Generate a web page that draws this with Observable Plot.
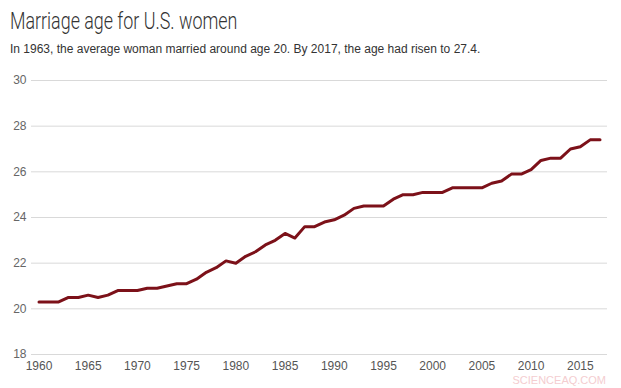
<!DOCTYPE html>
<html>
<head>
<meta charset="utf-8">
<script src="https://cdn.jsdelivr.net/npm/d3@7"></script>
<script src="https://cdn.jsdelivr.net/npm/@observablehq/plot@0.6"></script>
<style>
  html, body { margin: 0; padding: 0; background: #fff; }
  #wrap { position: relative; width: 621px; height: 388px; overflow: hidden; font-family: "Liberation Sans", Arial, sans-serif; }
  #title { position: absolute; left: 10px; top: 7px; font-family: Roboto, "Liberation Sans", sans-serif; font-weight: 300; font-size: 24px; color: #333; white-space: nowrap; transform: scaleX(0.745); transform-origin: left top; }
  #subtitle { position: absolute; left: 10px; top: 42px; font-size: 12px; color: #333; white-space: nowrap; }
  #chart { position: absolute; left: 0; top: 62px; }
  #credit { position: absolute; right: 15px; bottom: 2px; font-size: 11px; color: #f4cdd0; }
</style>
</head>
<body>
<div id="wrap">
  <div id="title">Marriage age for U.S. women</div>
  <div id="subtitle">In 1963, the average woman married around age 20. By 2017, the age had risen to 27.4.</div>
  <div id="chart"></div>
  <div id="credit">SCIENCEAQ.COM</div>
</div>
<script>
const years = [1960,1961,1962,1963,1964,1965,1966,1967,1968,1969,
  1970,1971,1972,1973,1974,1975,1976,1977,1978,1979,
  1980,1981,1982,1983,1984,1985,1986,1987,1988,1989,
  1990,1991,1992,1993,1994,1995,1996,1997,1998,1999,
  2000,2001,2002,2003,2004,2005,2006,2007,2008,2009,
  2010,2011,2012,2013,2014,2015,2016,2017];
const ages = [20.3,20.3,20.3,20.5,20.5,20.6,20.5,20.6,20.8,20.8,
  20.8,20.9,20.9,21.0,21.1,21.1,21.3,21.6,21.8,22.1,
  22.0,22.3,22.5,22.8,23.0,23.3,23.1,23.6,23.6,23.8,
  23.9,24.1,24.4,24.5,24.5,24.5,24.8,25.0,25.0,25.1,
  25.1,25.1,25.3,25.3,25.3,25.3,25.5,25.6,25.9,25.9,
  26.1,26.5,26.6,26.6,27.0,27.1,27.4,27.4];
const xTicks = [1960,1965,1970,1975,1980,1985,1990,1995,2000,2005,2010,2015];
const yTicks = [18,20,22,24,26,28,30];

const data = years.map((y, i) => ({year: y, age: ages[i]}));

const chart = Plot.plot({
  width: 621,
  height: 326,
  marginTop: 18,
  marginBottom: 34,
  marginLeft: 31,
  marginRight: 14,
  insetLeft: 7.5,
  insetRight: 7.5,
  style: { fontFamily: "'Liberation Sans', Arial, sans-serif", fontSize: "12px", color: "#555", background: "#fff" },
  x: { domain: [1960, 2017], label: null },
  y: { domain: [18, 30], label: null },
  marks: [
    Plot.gridY(yTicks, { stroke: "#d9d9d9", strokeOpacity: 1, strokeWidth: 1 }),
    Plot.axisY(yTicks, { tickSize: 0, tickPadding: 5, label: null, fill: "#666" }),
    Plot.axisX(xTicks, { tickSize: 0, tickPadding: 7, label: null, tickFormat: d => String(d), fill: "#555" }),
    Plot.line(data, { x: "year", y: "age", stroke: "#7c1119", strokeWidth: 3, strokeLinejoin: "round", strokeLinecap: "round" })
  ]
});
document.getElementById("chart").appendChild(chart);
</script>
</body>
</html>
